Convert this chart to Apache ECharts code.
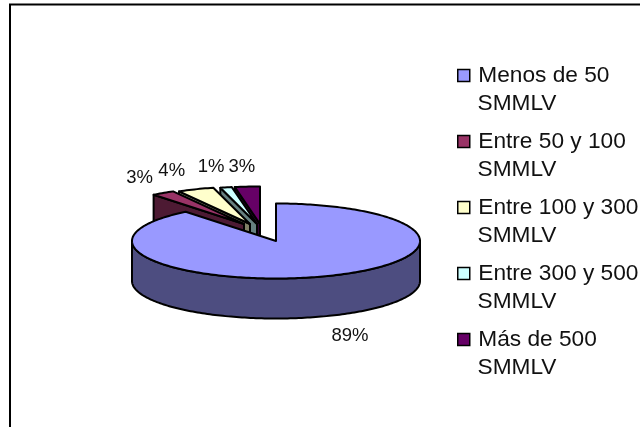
<!DOCTYPE html>
<html><head><meta charset="utf-8">
<style>html,body{margin:0;padding:0;background:#fff}#c{width:640px;height:427px}</style>
<script src="https://cdn.jsdelivr.net/npm/echarts@6/dist/echarts.min.js"></script>
</head><body><div id="c"></div>
<script>
const categories = ['Menos de 50 SMMLV','Entre 50 y 100 SMMLV','Entre 100 y 300 SMMLV','Entre 300 y 500 SMMLV','Más de 500 SMMLV'];
const values = [89.2, 2.6, 4.1, 1.3, 2.8];
const topColors = ['#9999FF','#993366','#FFFFCC','#CCFFFF','#660066'];
const wallColors = ['#4D4D80','#4D1A33','#808066','#668080','#330033'];

// layout
const CX=276, CY=241, RX=144, RY=37.5, DEPTH=40;
const apexShift=[[0,0],[-32,-17],[-26,-17],[-19,-17],[-16,-17]];
const labelShift=[[26,20],[-23.5,-15],[-24,-18],[-15,-20],[-5.5,-20]];

const total=values.reduce((a,b)=>a+b,0);
const starts=[]; let run=0;
values.forEach(v=>{starts.push(run);run+=v;});
const ang=v=>v/total*Math.PI*2;
function pt(ax,ay,t,dy){return [ax+RX*Math.sin(t),ay-RY*Math.cos(t)+(dy||0)];}
function arc(ax,ay,t0,t1,dy){const n=Math.max(2,Math.ceil((t1-t0)/0.02));const r=[];for(let i=0;i<=n;i++){r.push(pt(ax,ay,t0+(t1-t0)*i/n,dy));}return r;}
const line={stroke:'#000',lineWidth:2,lineJoin:'round'};

function render(idx){
  return function(params,api){
    const v=api.value(0);
    const t0=ang(starts[idx]), t1=t0+ang(v);
    const ax=CX+apexShift[idx][0], ay=CY+apexShift[idx][1];
    const kids=[];
    if(idx===0){
      const a0=Math.max(t0,Math.PI/2), a1=Math.min(t1,Math.PI*1.5);
      const top=arc(ax,ay,a0,a1,0), bot=arc(ax,ay,a0,a1,DEPTH).reverse();
      kids.push({type:'polygon',shape:{points:top.concat(bot)},style:Object.assign({fill:wallColors[idx]},line)});
    } else {
      const tip=pt(ax,ay,t0,0);
      kids.push({type:'polygon',shape:{points:[[ax,ay],tip,[tip[0],tip[1]+DEPTH],[ax,ay+DEPTH]]},style:Object.assign({fill:wallColors[idx]},line)});
    }
    kids.push({type:'polygon',shape:{points:[[ax,ay]].concat(arc(ax,ay,t0,t1,0))},style:Object.assign({fill:topColors[idx]},line)});
    const mid=pt(ax,ay,(t0+t1)/2,idx===0?DEPTH:0);
    kids.push({type:'text',z2:50,style:{x:mid[0]+labelShift[idx][0],y:mid[1]+labelShift[idx][1],text:Math.round(v)+'%',fill:'#111',font:'18.5px "Liberation Sans"',align:'center',verticalAlign:'middle'}});
    return {type:'group',children:kids};
  };
}
const zOrder=[10,4,3,2,1];
const legendBase={
  orient:'vertical',left:452,itemGap:38,itemWidth:12,itemHeight:12,icon:'rect',
  data:categories,selectedMode:false
};
const legendText={fontFamily:'Liberation Sans',fontSize:22.7,color:'#111',lineHeight:28,padding:[0,0,0,3.5]};
const chart=echarts.init(document.getElementById('c'),null,{renderer:'canvas'});
chart.setOption({
  animation:false,
  backgroundColor:'#fff',
  legend:[
    Object.assign({},legendBase,{top:56.5,itemStyle:{borderColor:'#000',borderWidth:1.5},
      formatter:n=>n.slice(0,n.lastIndexOf(' ')),textStyle:legendText}),
    Object.assign({},legendBase,{top:84.5,itemStyle:{color:'transparent',borderWidth:0,opacity:0},
      formatter:n=>n.slice(n.lastIndexOf(' ')+1),textStyle:legendText})
  ],
  graphic:[{type:'polyline',silent:true,shape:{points:[[10,427],[10,4.5],[640,4.5]]},style:{stroke:'#000',lineWidth:2,fill:null}}],
  series:categories.map((c,i)=>({
    type:'custom',name:c,coordinateSystem:'none',silent:true,z:zOrder[i],
    itemStyle:{color:topColors[i]},
    data:[[values[i]]],
    renderItem:render(i)
  }))
});
</script></body></html>
